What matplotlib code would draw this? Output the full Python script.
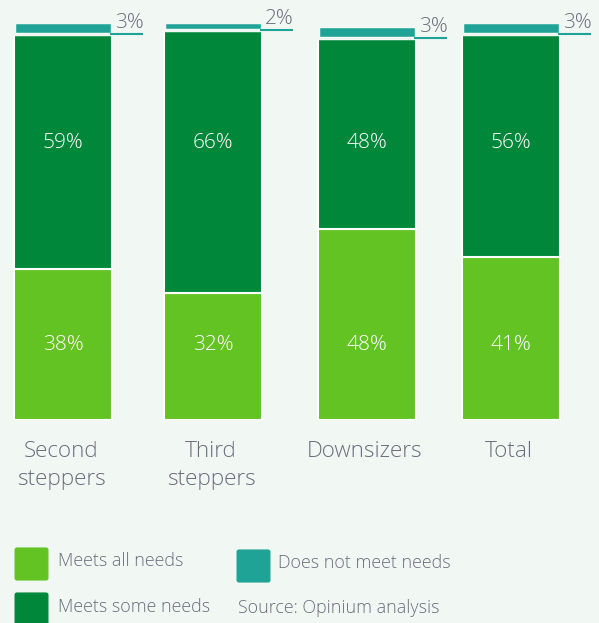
import matplotlib.pyplot as plt
from matplotlib.patches import FancyBboxPatch

categories = ["Second\nsteppers", "Third\nsteppers", "Downsizers", "Total"]
meets_all = [38, 32, 48, 41]
meets_some = [59, 66, 48, 56]
not_met = [3, 2, 3, 3]

bg = "#f1f7f3"
c_all = "#63c323"
c_some = "#00873a"
c_not = "#1ea396"
c_text = "#6c6c7c"

plt.rcParams["font.family"] = ["Open Sans", "DejaVu Sans"]
plt.rcParams["font.weight"] = "light"

fig = plt.figure(figsize=(5.99, 6.23), dpi=100, facecolor=bg)
W, H = 599, 623
ax = fig.add_axes([0, (H - 420) / H, 1, 398 / H])
ax.set_facecolor(bg)
ax.set_xlim(0, W)
ax.set_ylim(0, 100)
ax.axis("off")

xs = [63, 213, 367, 511]
bw = 98

ax.bar(xs, meets_all, width=bw, color=c_all, edgecolor="white", linewidth=1.5)
ax.bar(xs, meets_some, width=bw, bottom=meets_all, color=c_some,
       edgecolor="white", linewidth=1.5)
base = [a + b for a, b in zip(meets_all, meets_some)]
ax.bar(xs, not_met, width=bw, bottom=base, color=c_not, edgecolor=bg, linewidth=2.5)

for x, a, s, n, b, cat in zip(xs, meets_all, meets_some, not_met, base, categories):
    ax.text(x, 18.9, f"{a}%", color="white", ha="center", va="center", fontsize=15)
    ax.text(x, 69.6, f"{s}%", color="white", ha="center", va="center", fontsize=15)
    ax.plot([x + bw / 2 - 2, x + bw / 2 + 31], [b, b], color=c_not, lw=1.5,
            solid_capstyle="butt", clip_on=False)
    ax.text(x + bw / 2 + 17, b + 0.2, f"{n}%", color=c_text, ha="center",
            va="bottom", fontsize=15, clip_on=False)
    ax.text(x - 2, -5.3, cat, color=c_text, ha="center", va="top", fontsize=16.2,
            linespacing=1.45)

def legend_box(x, y, color):
    fig.patches.append(FancyBboxPatch((x / W, 1 - (y + 31) / H), 29 / W, 28 / H,
                                      boxstyle="round,pad=0.003", color=color,
                                      transform=fig.transFigure))

legend_box(17, 547, c_all)
legend_box(17, 592, c_some)
legend_box(239, 549, c_not)

fs = 12.9
fig.text(58 / W, 1 - 561 / H, "Meets all needs", color=c_text, fontsize=fs, va="center")
fig.text(58 / W, 1 - 607 / H, "Meets some needs", color=c_text, fontsize=fs, va="center")
fig.text(278 / W, 1 - 563 / H, "Does not meet needs", color=c_text, fontsize=fs, va="center")
fig.text(238 / W, 1 - 608 / H, "Source: Opinium analysis", color=c_text, fontsize=fs,
         va="center")

fig.savefig("out.png", dpi=100, facecolor=bg)
